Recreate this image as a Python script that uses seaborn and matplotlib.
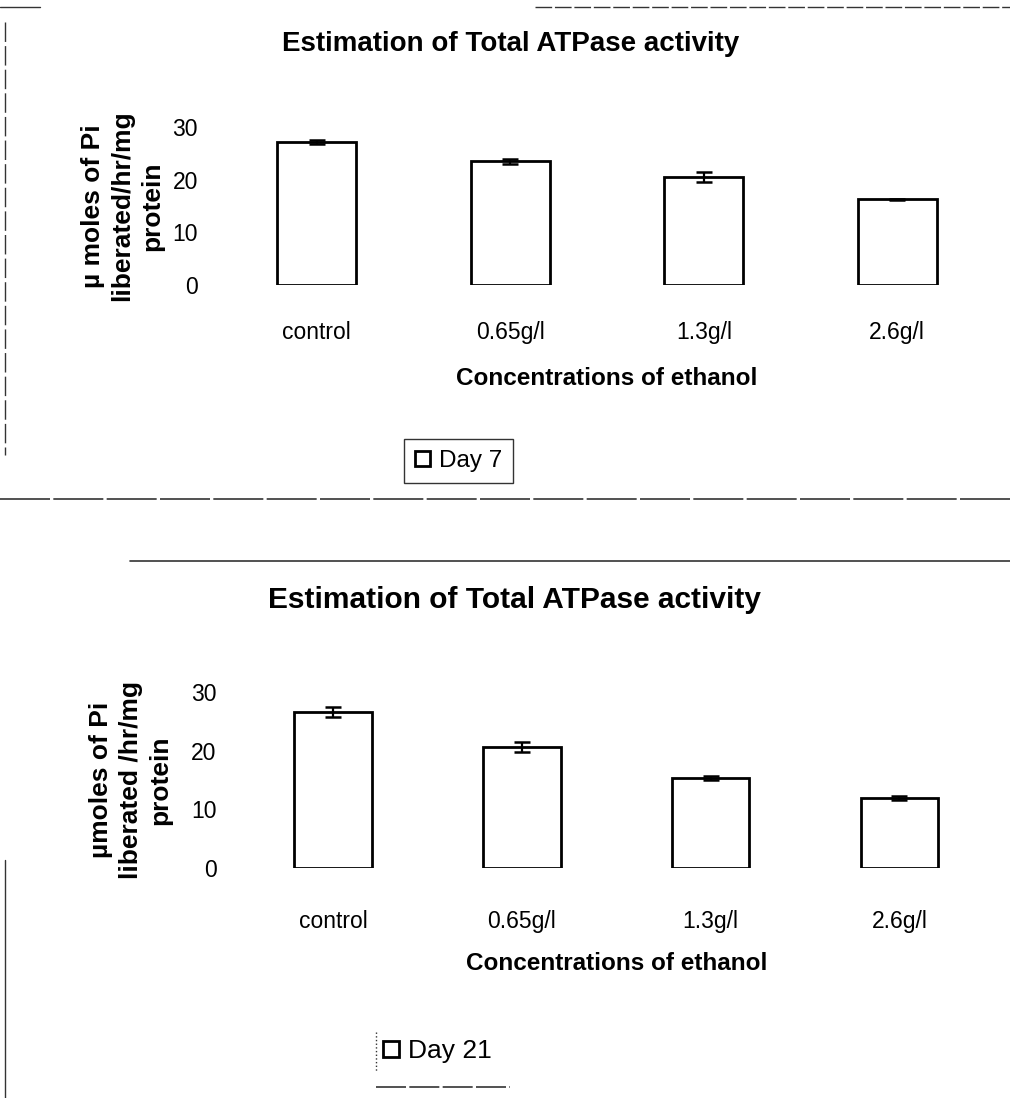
import matplotlib
matplotlib.use("Agg")
import matplotlib.pyplot as plt
from matplotlib.lines import Line2D
import seaborn as sns

# Data
categories = ["control", "0.65g/l", "1.3g/l", "2.6g/l"]
day7_mean = [27.2, 23.5, 20.5, 16.3]
day7_err = [0.4, 0.5, 1.0, 0.1]
day21_mean = [26.6, 20.6, 15.4, 12.0]
day21_err = [0.8, 0.9, 0.35, 0.35]
yticks = [0, 10, 20, 30]

title_text = "Estimation of Total ATPase activity"
xlabel_text = "Concentrations of ethanol"
ylabel_day7 = "\u00b5 moles of Pi\nliberated/hr/mg\nprotein"
ylabel_day21 = "\u00b5moles of Pi\nliberated /hr/mg\nprotein"

sns.set_theme(style="white")
plt.rcParams["font.family"] = ["Liberation Sans", "DejaVu Sans"]
plt.rcParams["text.color"] = "black"
plt.rcParams["axes.labelcolor"] = "black"
plt.rcParams["xtick.color"] = "black"
plt.rcParams["ytick.color"] = "black"

W, H = 1010, 1098
fig = plt.figure(figsize=(W / 100, H / 100), dpi=100)
fig.patch.set_facecolor("white")


def fx(x):
    return x / W


def fy(y):
    return 1 - y / H


def panel(rect, means, errs, ylabel, label, title, title_y, title_x, title_size,
          ylab_x, xlab_y, tick_pad):
    ax = fig.add_axes(rect)
    sns.barplot(x=categories, y=means, color="white", saturation=1,
                edgecolor="black", linewidth=2.0, width=0.41,
                errorbar=None, label=label, ax=ax)
    ax.errorbar(x=list(range(len(categories))), y=means, yerr=errs,
                fmt="none", ecolor="black", elinewidth=1.6, capsize=6,
                capthick=1.8, zorder=5)
    ax.set_xlim(-0.5, len(categories) - 0.5)
    ax.set_ylim(0, 30)
    ax.set_yticks(yticks)
    ax.set_yticklabels([str(t) for t in yticks], fontsize=16.5)
    ax.tick_params(axis="x", length=0, pad=tick_pad, labelsize=16.5)
    ax.tick_params(axis="y", length=0, pad=16)
    for s in ax.spines.values():
        s.set_visible(False)
    ax.set_facecolor("white")
    ax.set_ylabel(ylabel, fontsize=19, fontweight="bold", linespacing=1.3)
    ax.yaxis.set_label_coords(ylab_x, 0.5)
    ax.set_xlabel(xlabel_text, fontsize=17.5, fontweight="bold")
    ax.xaxis.set_label_coords(0.5, xlab_y)
    fig.text(title_x, title_y, title, ha="center", va="center",
             fontsize=title_size, fontweight="bold")
    return ax


# Day 7 panel
ax1 = panel([fx(220), fy(285), fx(994) - fx(220), (285 - 127) / H],
            day7_mean, day7_err, ylabel_day7, "Day 7", title_text,
            fy(44), fx(511), 20, -0.072, -0.52, 26)
leg1 = ax1.legend(loc="upper left", bbox_to_anchor=(fx(404), fy(439)),
                  bbox_transform=fig.transFigure, fontsize=17.5,
                  frameon=True, fancybox=False, handlelength=0.6,
                  handleheight=0.6, handletextpad=0.4, borderpad=0.45,
                  borderaxespad=0)
leg1.get_frame().set_edgecolor("black")
leg1.get_frame().set_linewidth(1.0)

# Day 21 panel
ax2 = panel([fx(238.7), fy(868), fx(993.7) - fx(238.7), (868 - 692) / H],
            day21_mean, day21_err, ylabel_day21, "Day 21", title_text,
            fy(600), fx(515), 21.5, -0.088, -0.48, 30)
ax2.tick_params(axis="y", length=4, width=0.8, color="#999999", pad=12)
leg2 = ax2.legend(loc="upper left", bbox_to_anchor=(fx(378), fy(1034)),
                  bbox_transform=fig.transFigure, fontsize=19,
                  frameon=False, handlelength=0.6, handleheight=0.6,
                  handletextpad=0.35, borderpad=0.2, borderaxespad=0)

# Page frame lines around the two panels
frame_lines = [
    ((0, 40), (7, 7), "-", 1.0),
    ((535, 1010), (7, 7), (0, (12, 2)), 1.0),
    ((5, 5), (22, 455), (0, (14, 3)), 1.0),
    ((0, 1010), (499, 499), (0, (30, 2)), 1.2),
    ((130, 1010), (561, 561), "-", 1.2),
    ((5, 5), (860, 1098), "-", 1.0),
    ((376, 510), (1087, 1087), (0, (18, 2)), 1.2),
    ((376, 376), (1032, 1072), ":", 1.0),
]
for xs, ys, ls, lw in frame_lines:
    fig.add_artist(Line2D([fx(v) for v in xs], [fy(v) for v in ys],
                          transform=fig.transFigure, color="#333333",
                          linestyle=ls, linewidth=lw))

fig.savefig("out.png", dpi=100, facecolor="white")
